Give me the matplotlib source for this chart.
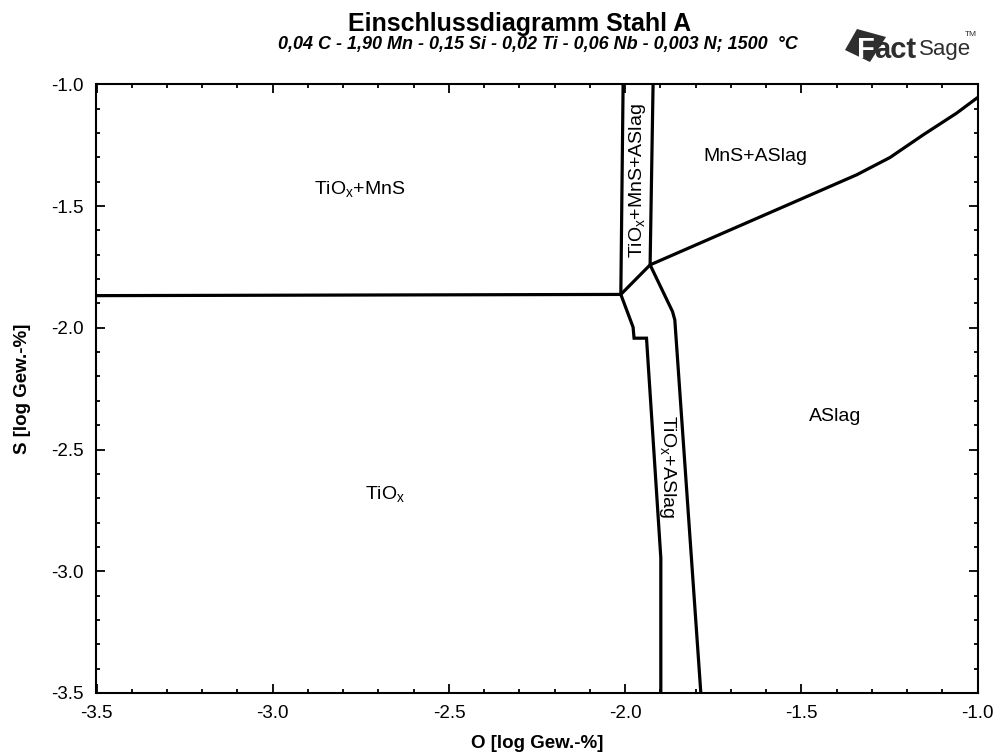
import matplotlib
matplotlib.use("Agg")
import matplotlib.pyplot as plt
from matplotlib.patches import Polygon
from matplotlib.ticker import MultipleLocator

plt.rcParams['font.family'] = ['Liberation Sans', 'DejaVu Sans']
plt.rcParams['mathtext.fontset'] = 'custom'
plt.rcParams['mathtext.rm'] = 'Liberation Sans'

# ---- Data: phase boundary lines (log O, log S) ----
b1_x = [-3.5, -2.0125]
b1_y = [-1.868, -1.863]
b2_x = [-2.0125, -2.006]
b2_y = [-1.863, -1.0]
b3_x = [-2.0125, -1.9294]
b3_y = [-1.863, -1.7416]
b4_x = [-1.9294, -1.921]
b4_y = [-1.7416, -1.0]
b5_x = [-1.9294, -1.495, -1.3435, -1.2489, -1.1545, -1.0597, -1.0]
b5_y = [-1.7416, -1.4675, -1.3718, -1.3007, -1.2075, -1.1183, -1.054]
b6_x = [-2.0125, -1.9777, -1.9749, -1.9396, -1.899, -1.899]
b6_y = [-1.863, -1.9975, -2.0427, -2.0427, -2.945, -3.5]
b7_x = [-1.9294, -1.8658, -1.8593, -1.7855]
b7_y = [-1.7416, -1.9334, -1.9676, -3.5]

boundaries = [(b1_x, b1_y), (b2_x, b2_y), (b3_x, b3_y), (b4_x, b4_y),
              (b5_x, b5_y), (b6_x, b6_y), (b7_x, b7_y)]

# ---- Region labels ----
label_texts = [r"TiO$_{\mathregular{x}}$+MnS", "MnS+ASlag",
               r"TiO$_{\mathregular{x}}$+MnS+ASlag", r"TiO$_{\mathregular{x}}$+ASlag",
               "ASlag", r"TiO$_{\mathregular{x}}$"]
label_x = [-2.753, -1.632, -1.9643, -1.879, -1.405, -2.682]
label_y = [-1.433, -1.298, -1.396, -2.571, -2.366, -2.687]
label_rot = [0, 0, 90, -90, 0, 0]

x_ticks = [-3.5, -3.0, -2.5, -2.0, -1.5, -1.0]
y_ticks = [-3.5, -3.0, -2.5, -2.0, -1.5, -1.0]

W, H = 1003, 754
fig = plt.figure(figsize=(W / 100, H / 100), dpi=100)
ax_left, ax_right, ax_top, ax_bot = 96.5, 977.7, 84.3, 693
ax = fig.add_axes([ax_left / W, 1 - ax_bot / H, (ax_right - ax_left) / W, (ax_bot - ax_top) / H])

for bx, by in boundaries:
    ax.plot(bx, by, color='black', lw=2.3, solid_joinstyle='miter', solid_capstyle='butt')

for t, x, y, r in zip(label_texts, label_x, label_y, label_rot):
    ax.text(x, y, t, rotation=r, ha='center', va='center', fontsize=14)

ax.set_xlim(-3.5, -1.0)
ax.set_ylim(-3.5, -1.0)
ax.set_xticks(x_ticks)
ax.set_yticks(y_ticks)
ax.set_xticklabels([f"{v:.1f}" for v in x_ticks])
ax.set_yticklabels([f"{v:.1f}" for v in y_ticks])
ax.xaxis.set_minor_locator(MultipleLocator(0.1))
ax.yaxis.set_minor_locator(MultipleLocator(0.1))
ax.tick_params(which='both', direction='in', top=True, right=True, width=1.3)
ax.tick_params(which='major', length=6.5, labelsize=13.5, pad=9)
ax.tick_params(which='minor', length=3.2)
for s in ax.spines.values():
    s.set_linewidth(1.5)

ax.set_xlabel("O [log Gew.-%]", fontsize=13.5, fontweight='bold')
ax.xaxis.set_label_coords(0.5, -(743 - ax_bot) / (ax_bot - ax_top))
ax.set_ylabel("S [log Gew.-%]", fontsize=13.5, fontweight='bold')
ax.yaxis.set_label_coords(-(ax_left - 23) / (ax_right - ax_left), 0.5)
ax.xaxis.label.set_va('center')
ax.yaxis.label.set_va('center')

fig.text(520 / W, 1 - 24 / H, "Einschlussdiagramm Stahl A", ha='center', va='center',
         fontsize=18, fontweight='bold')
fig.text(538 / W, 1 - 45 / H,
         "0,04 C - 1,90 Mn - 0,15 Si - 0,02 Ti - 0,06 Nb - 0,003 N; 1500  \u00b0C",
         ha='center', va='center', fontsize=13, fontweight='bold', style='italic')

# ---- FactSage logo (approximation) ----
logo_pts = [(857 / W, 1 - 29 / H), (845 / W, 1 - 50 / H), (870 / W, 1 - 62 / H), (886 / W, 1 - 37 / H)]
fig.add_artist(Polygon(logo_pts, closed=True, transform=fig.transFigure,
                       facecolor='#2e2e2e', edgecolor='none'))
fig.text(857 / W, 1 - 50 / H, "F", ha='left', va='center', fontsize=21, fontweight='bold',
         color='white')
fig.text(874 / W, 1 - 50 / H, "act", ha='left', va='center', fontsize=21, fontweight='bold',
         color='#2e2e2e')
fig.text(919 / W, 1 - 49 / H, "Sage", ha='left', va='center', fontsize=16,
         color='#2e2e2e')
fig.text(965 / W, 1 - 35 / H, "TM", ha='left', va='center', fontsize=6,
         color='#2e2e2e')

fig.savefig("out.png", dpi=100, facecolor='white')
